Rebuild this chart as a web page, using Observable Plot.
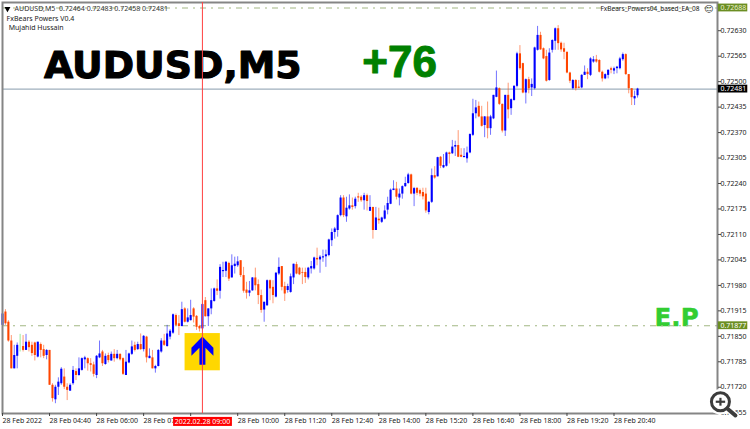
<!DOCTYPE html>
<html><head><meta charset="utf-8">
<script src="https://cdn.jsdelivr.net/npm/d3@7"></script>
<script src="https://cdn.jsdelivr.net/npm/@observablehq/plot@0.6"></script>
<style>html,body{margin:0;padding:0;background:#fff}svg{display:block}</style>
</head><body><div id="chart"></div>
<script>
// M5 AUDUSD candles, prices in 1e-5 units
const opens=[71878,71912,71886,71838,71767,71799,71830,71824,71814,71835,
71827,71833,71797,71829,71816,71801,71814,71725,71688,71720,
71729,71746,71720,71710,71729,71760,71750,71763,71790,71793,
71780,71777,71750,71795,71810,71778,71801,71787,71804,71793,
71804,71793,71750,71782,71804,71827,71816,71829,71816,71848,
71793,71795,71767,71773,71810,71838,71824,71848,71858,71903,
71882,71875,71920,71886,71890,71920,71901,71875,71869,71941,
71900,71920,71939,71971,71965,72015,72016,72036,71999,72028,
72030,72043,72005,71968,71960,71966,71999,71982,71954,71917,
71928,71992,71975,71950,72009,72028,71977,71967,71962,71999,
72033,72024,72013,72013,71999,72022,72022,72049,72045,72050,
72053,72056,72094,72115,72120,72158,72203,72155,72175,72183,
72181,72206,72205,72196,72209,72169,72179,72120,72149,72141,
72149,72172,72187,72222,72226,72203,72213,72232,72240,72262,
72213,72228,72222,72217,72213,72166,72192,72260,72257,72307,
72280,72284,72318,72316,72333,72337,72312,72306,72303,72318,
72363,72418,72437,72410,72388,72410,72380,72405,72460,72482,
72442,72374,72465,72431,72452,72488,72571,72546,72471,72505,
72484,72482,72580,72618,72584,72564,72503,72580,72603,72635,
72598,72584,72575,72522,72482,72503,72486,72484,72516,72524,
72516,72550,72556,72554,72524,72507,72516,72533,72527,72533,
72533,72556,72569,72518,72482,72456,72464];
const highs=[71925,71918,71890,71852,71827,71833,71855,71852,71855,71839,
71835,71835,71835,71833,71827,71816,71814,71729,71725,71744,
71770,71767,71729,71729,71773,71767,71795,71795,71799,71795,
71793,71784,71801,71838,71814,71805,71807,71810,71816,71814,
71805,71795,71814,71807,71838,71835,71835,71856,71852,71850,
71818,71814,71776,71816,71844,71855,71878,71867,71907,71907,
71903,71937,71923,71920,71942,71923,71903,71878,71933,71949,
71920,71971,71973,71994,72033,72039,72041,72039,72058,72052,
72053,72043,72026,71988,71990,72000,72024,71994,71968,71937,
71994,71994,71992,72013,72050,72028,71988,71983,72009,72034,
72039,72026,72024,72024,72026,72041,72052,72075,72056,72070,
72070,72098,72124,72128,72160,72209,72209,72205,72211,72203,
72205,72215,72209,72215,72213,72209,72179,72179,72177,72154,
72183,72205,72226,72247,72243,72226,72234,72256,72266,72264,
72230,72228,72226,72228,72228,72194,72277,72283,72307,72309,
72314,72320,72320,72350,72348,72375,72329,72329,72333,72367,
72455,72452,72448,72437,72411,72448,72414,72465,72527,72484,
72443,72465,72496,72456,72490,72575,72592,72547,72507,72511,
72507,72588,72641,72626,72586,72580,72584,72607,72637,72643,
72601,72598,72575,72524,72505,72505,72503,72518,72540,72533,
72561,72564,72567,72556,72527,72520,72530,72537,72537,72539,
72562,72573,72571,72518,72482,72476,72483];
const lows=[71878,71878,71835,71767,71767,71767,71810,71810,71814,71810,
71799,71787,71795,71795,71793,71790,71725,71682,71678,71699,
71725,71714,71686,71710,71725,71737,71748,71761,71767,71761,
71759,71746,71742,71793,71773,71776,71782,71787,71784,71790,
71787,71750,71750,71780,71801,71810,71814,71814,71810,71782,
71793,71767,71756,71772,71807,71824,71822,71841,71855,71875,
71852,71874,71884,71884,71889,71884,71865,71861,71866,71899,
71875,71905,71937,71954,71945,72000,72000,71990,71999,72009,
72026,72000,71960,71945,71951,71965,71966,71931,71909,71886,
71926,71941,71933,71948,72005,71966,71939,71960,71960,71982,
72007,72005,71982,71985,71994,72009,72019,72030,72011,72039,
72026,72053,72079,72098,72103,72155,72153,72141,72172,72172,
72175,72192,72192,72172,72170,72169,72098,72120,72136,72138,
72147,72160,72186,72222,72198,72183,72200,72230,72238,72211,
72181,72209,72206,72198,72164,72160,72189,72251,72257,72278,
72278,72282,72290,72314,72309,72306,72306,72306,72292,72316,
72360,72405,72408,72384,72357,72354,72363,72403,72459,72439,
72369,72360,72405,72414,72450,72484,72529,72469,72443,72469,
72462,72479,72578,72580,72556,72499,72501,72573,72580,72580,
72575,72556,72520,72495,72479,72476,72482,72482,72516,72505,
72513,72547,72547,72522,72499,72505,72507,72520,72518,72520,
72530,72552,72516,72469,72439,72439,72458];
const closes=[71907,71882,71838,71767,71801,71827,71830,71814,71835,71821,
71806,71801,71835,71814,71799,71814,71725,71691,71720,71733,
71766,71720,71712,71725,71763,71750,71767,71793,71795,71780,
71776,71753,71799,71805,71780,71799,71788,71804,71793,71804,
71790,71753,71784,71805,71823,71814,71829,71816,71850,71795,
71799,71767,71773,71814,71838,71827,71856,71863,71905,71878,
71875,71918,71886,71897,71903,71899,71873,71869,71931,71900,
71920,71941,71971,71965,72026,72018,72039,71996,72030,72034,
72040,72005,71965,71960,71966,71999,71979,71954,71916,71937,
71992,71971,71954,72011,72026,71975,71958,71977,72002,72034,
72009,72007,72011,72000,72024,72028,72050,72045,72052,72053,
72058,72096,72115,72124,72158,72203,72158,72177,72183,72179,
72200,72203,72196,72209,72194,72179,72120,72152,72145,72152,
72170,72189,72223,72226,72205,72213,72232,72240,72262,72213,
72227,72215,72213,72206,72170,72192,72260,72254,72306,72284,
72286,72318,72314,72333,72337,72307,72307,72309,72318,72365,
72418,72433,72410,72386,72410,72380,72410,72465,72484,72442,
72374,72465,72428,72454,72488,72571,72533,72471,72505,72482,
72493,72586,72618,72581,72558,72501,72573,72605,72635,72597,
72581,72575,72522,72501,72503,72482,72483,72516,72524,72518,
72558,72556,72550,72524,72507,72518,72529,72529,72533,72537,
72558,72569,72518,72482,72459,72462,72481];
const greenBars=[6];

const timeTicks=[0,16,32,48,64,80,96,112,128,144,160,176,192,208];
const timeLabels=["28 Feb 2022","28 Feb 04:40","28 Feb 06:00","28 Feb 07:20","","28 Feb 10:00","28 Feb 11:20","28 Feb 12:40","28 Feb 14:00","28 Feb 15:20","28 Feb 16:40","28 Feb 18:00","28 Feb 19:20","28 Feb 20:40"];
const priceTicks=[0.72630,0.72565,0.72500,0.72435,0.72370,0.72305,0.72240,0.72175,0.72110,0.72045,0.71980,0.71915,0.71850,0.71785,0.71720,0.71655];

const priceTop=0.72688, priceLast=0.72481, priceEntry=0.71877;
const entryBar=68, entryStamp="2022.02.28 09:00";
const infoLine="AUDUSD,M5  0.72464 0.72483 0.72458 0.72481";

const bars=opens.map((o,i)=>({i,o:o/1e5,h:highs[i]/1e5,l:lows[i]/1e5,c:closes[i]/1e5,
  col:greenBars.includes(i)?"#44dd44":(closes[i]>=o?"#0000ff":"#ff4500")}));

const small={fontFamily:"'Noto Sans'",fontSize:7};
const upArrow={draw(ctx,size){const k=Math.sqrt(size)/20;
  [[0,-14.3],[11,-3],[11,5],[3,-3],[3,14],[-3,14],[-3,-3],[-11,5],[-11,-3]].forEach(([x,y],n)=>n?ctx.lineTo(x*k,y*k):ctx.moveTo(x*k,y*k));
  ctx.closePath();}};

const boxes=[{p:priceTop,f:"#6b8e23",t:"#e8f0d0"},{p:priceLast,f:"#000000",t:"#ffffff"},{p:priceEntry,f:"#6b8e23",t:"#ffffff"}];

const chart=Plot.plot({
  width:750,height:429,
  marginLeft:2,marginTop:2,marginRight:33,marginBottom:16,
  style:{background:"#fff",fontFamily:"'Noto Sans'"},
  x:{type:"linear",domain:[0,243.2]},
  y:{type:"linear",domain:[0.71653,0.72702]},
  marks:[
    Plot.text([{x:14.1,p:0.72510,t:"AUDUSD,M5"}],{x:"x",y:"p",text:"t",textAnchor:"start",lineAnchor:"bottom",fontFamily:"'DejaVu Sans'",fontWeight:"bold",fontSize:37.8,fill:"#000",stroke:"#000",strokeWidth:1.1}),
    Plot.text([{x:122.4,p:0.72513,t:"+76"}],{x:"x",y:"p",text:"t",textAnchor:"start",lineAnchor:"bottom",fontFamily:"'Liberation Sans'",fontWeight:"bold",fontSize:44,fill:"#008000",stroke:"#008000",strokeWidth:1}),
    Plot.text([{x:221.8,p:0.71877,t:"E.P"}],{x:"x",y:"p",text:"t",textAnchor:"start",lineAnchor:"bottom",fontFamily:"'DejaVu Sans'",fontWeight:"bold",fontSize:24.5,fill:"#32cd32",stroke:"#32cd32",strokeWidth:0.4}),
    Plot.ruleY([priceTop,priceEntry],{stroke:"#a3b884",strokeWidth:1.2,strokeDasharray:"6,5,2,5"}),
    Plot.ruleY([priceLast],{stroke:"#9fafbd",strokeWidth:1.2}),
    Plot.ruleX(bars,{x:"i",y1:"l",y2:"h",stroke:"col",strokeWidth:1,strokeOpacity:0.55}),
    Plot.ruleX(bars,{x:"i",y1:"o",y2:"c",stroke:"col",strokeWidth:2.1,filter:d=>!greenBars.includes(d.i)}),
    Plot.rect([{x1:62.1,x2:74.1,y1:0.71762,y2:0.71857}],{x1:"x1",x2:"x2",y1:"y1",y2:"y2",fill:"#ffd700"}),
    Plot.dot([{x:entryBar,p:0.71813}],{x:"x",y:"p",symbol:upArrow,r:11.28,fill:"#0000ff",stroke:"none"}),
    Plot.frame({stroke:"#858585",strokeWidth:2}),
    Plot.axisX({ticks:timeTicks,tickFormat:d=>timeLabels[timeTicks.indexOf(d)],tickSize:3,tickPadding:2,textAnchor:"start",label:null,...small,fill:"#222",stroke:"#444"}),
    Plot.axisY({anchor:"right",ticks:priceTicks,tickFormat:d=>d.toFixed(5),tickSize:3,tickPadding:0,label:null,...small,fill:"#222",stroke:"#444"}),
    Plot.rect(boxes,{x1:()=>243.5,x2:()=>253.5,y1:d=>d.p-0.00010,y2:d=>d.p+0.00010,fill:"f"}),
    Plot.text(boxes,{x:()=>248.6,y:"p",text:d=>d.p.toFixed(5),fill:"t",...small}),
    Plot.ruleX([entryBar],{y1:0.71653,y2:0.72702,stroke:"#ff4040",strokeWidth:1}),
    Plot.rect([{x1:58.2,x2:78.2,y1:0.71620,y2:0.71643}],{x1:"x1",x2:"x2",y1:"y1",y2:"y2",fill:"#ff0000"}),
    Plot.text([entryStamp],{x:()=>entryBar,y:()=>0.71631,text:d=>d,fill:"#fff",...small}),
    Plot.dot([{x:1.7,p:0.72686}],{x:"x",y:"p",symbol:"triangle",rotate:180,r:2.2,fill:"#000",stroke:"none"}),
    Plot.text([infoLine],{x:()=>4.1,y:()=>0.72686,text:d=>d,textAnchor:"start",...small,fill:"#333"}),
    Plot.text(["FxBears Powers V0.4"],{x:()=>1.4,y:()=>0.72661,text:d=>d,textAnchor:"start",...small,fill:"#222"}),
    Plot.text(["Mujahid Hussain"],{x:()=>2.1,y:()=>0.72638,text:d=>d,textAnchor:"start",...small,fill:"#222"}),
    Plot.text(["FxBears_Powers04_based_EA_08"],{x:()=>203.4,y:()=>0.72686,text:d=>d,textAnchor:"start",fontFamily:"'Noto Sans'",fontSize:6.5,fill:"#222"}),
    Plot.text(["\u263A"],{x:()=>240.2,y:()=>0.72686,text:d=>d,fontFamily:"'DejaVu Sans'",fontSize:9,fill:"#333"}),
    Plot.link([{a:246.6,b:0.71665,c:249.3,d:0.71648}],{x1:"a",y1:"b",x2:"c",y2:"d",stroke:"#fff",strokeWidth:6.5,strokeLinecap:"round"}),
    Plot.dot([{x:244.2,p:0.71683}],{x:"x",y:"p",r:10,fill:"#fff",fillOpacity:0.9,stroke:"#fff",strokeWidth:5.5}),
    Plot.link([{a:246.6,b:0.71665,c:249.3,d:0.71648}],{x1:"a",y1:"b",x2:"c",y2:"d",stroke:"#3c3c3c",strokeWidth:4,strokeLinecap:"round"}),
    Plot.dot([{x:244.2,p:0.71683}],{x:"x",y:"p",r:9,fill:"#fff",stroke:"#3c3c3c",strokeWidth:3}),
    Plot.link([{a:242.6,b:0.71683,c:245.8,d:0.71683},{a:244.2,b:0.71673,c:244.2,d:0.71693}],{x1:"a",y1:"b",x2:"c",y2:"d",stroke:"#3c3c3c",strokeWidth:2.2})
  ]
});
document.getElementById("chart").append(chart);
</script></body></html>
